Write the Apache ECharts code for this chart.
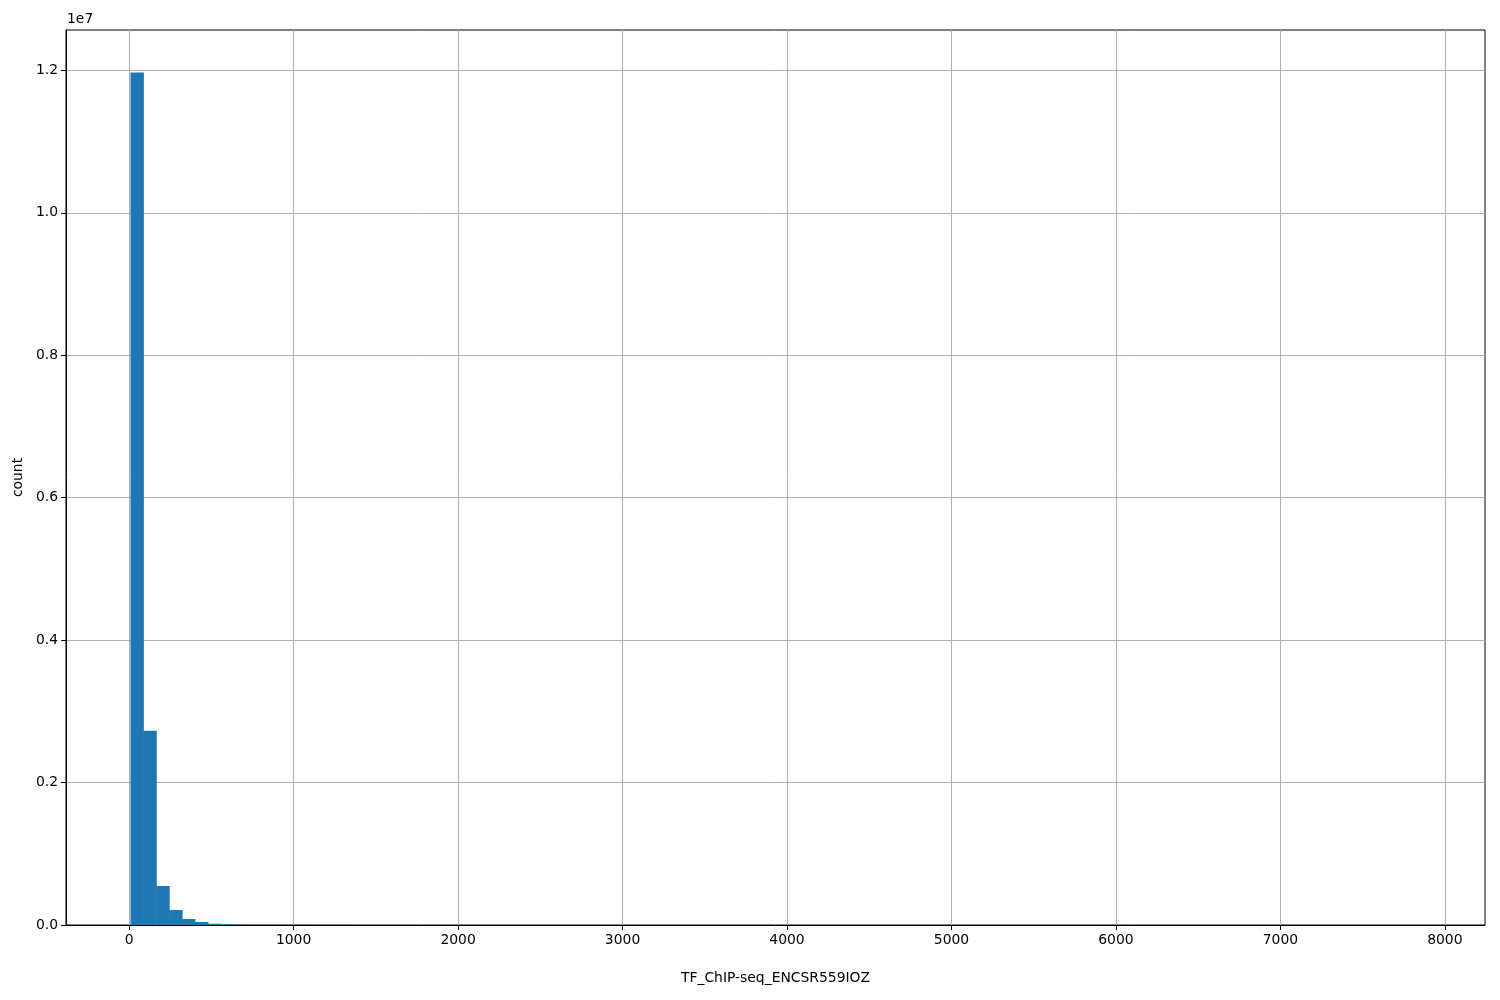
<!DOCTYPE html>
<html>
<head>
<meta charset="utf-8">
<script src="https://cdn.jsdelivr.net/npm/echarts@6/dist/echarts.min.js"></script>
<style>html,body{margin:0;padding:0;background:#fff}#c{width:1500px;height:1000px}</style>
</head>
<body>
<div id="c"></div>
<script>
// Histogram: 100 bins
const binStart = 8;
const binWidth = 78.44;
const counts = [
  11970000, 2726000, 548000, 211000, 84000, 42000, 18000, 10000, 6000, 4000,
  2800, 2000, 1500, 1100, 850, 650, 500, 400, 320, 260,
  210, 170, 140, 120, 100, 85, 70, 60, 52, 45,
  40, 34, 30, 26, 23, 20, 18, 16, 14, 12,
  11, 10, 9, 8, 7, 6, 6, 5, 5, 4,
  4, 4, 3, 3, 3, 3, 2, 2, 2, 2,
  2, 2, 1, 1, 1, 1, 1, 1, 1, 1,
  1, 0, 1, 0, 1, 0, 0, 1, 0, 0,
  1, 0, 0, 0, 1, 0, 0, 0, 0, 1,
  0, 0, 0, 0, 0, 1, 0, 0, 0, 1
];
const xTicks = [0, 1000, 2000, 3000, 4000, 5000, 6000, 7000, 8000];
const yTicks = [0, 2000000, 4000000, 6000000, 8000000, 10000000, 12000000];
const xLabel = 'TF_ChIP-seq_ENCSR559IOZ';
const yLabel = 'count';

const data = counts.map((c, i) => [binStart + i * binWidth, binStart + (i + 1) * binWidth, c]);
const xMin = -384, xMax = 8244, yMax = 12568000;
const font = 'DejaVu Sans';
const fs = 13.9;

const chart = echarts.init(document.getElementById('c'), null, {renderer: 'canvas'});
chart.setOption({
  animation: false,
  grid: {left: 66, right: 15, top: 30, bottom: 75, show: true, borderColor: '#000', borderWidth: 1, backgroundColor: 'transparent'},
  xAxis: {
    type: 'value', min: xMin, max: xMax,
    name: xLabel, nameLocation: 'middle', nameGap: 46,
    nameTextStyle: {fontFamily: font, fontSize: fs, color: '#000'},
    axisLine: {show: true, onZero: false, lineStyle: {color: '#000', width: 1}},
    axisTick: {show: true, length: 5, lineStyle: {color: '#000'}, customValues: xTicks},
    axisLabel: {fontFamily: font, fontSize: fs, color: '#000', margin: 8, customValues: xTicks,
      formatter: v => String(v)},
    splitLine: {show: true, lineStyle: {color: '#b0b0b0', width: 1}}
  },
  yAxis: {
    type: 'value', min: 0, max: yMax,
    name: yLabel, nameLocation: 'middle', nameGap: 38, nameRotate: 90,
    nameTextStyle: {fontFamily: font, fontSize: fs, color: '#000'},
    axisLine: {show: true, onZero: false, lineStyle: {color: '#000', width: 1}},
    axisTick: {show: true, length: 5, lineStyle: {color: '#000'}, customValues: yTicks},
    axisLabel: {fontFamily: font, fontSize: fs, color: '#000', margin: 8, customValues: yTicks,
      formatter: v => (v / 1e7).toFixed(1)},
    splitLine: {show: true, lineStyle: {color: '#b0b0b0', width: 1}}
  },
  graphic: [{
    type: 'text', left: 67, top: 12,
    style: {text: '1e7', font: fs + 'px "DejaVu Sans"', fill: '#000'}
  }],
  series: [{
    type: 'custom',
    data: data,
    encode: {x: [0, 1], y: 2},
    renderItem: function (params, api) {
      if (api.value(2) <= 0) return null;
      const p0 = api.coord([api.value(0), 0]);
      const p1 = api.coord([api.value(1), api.value(2)]);
      return {
        type: 'rect',
        shape: {x: p0[0], y: p1[1], width: p1[0] - p0[0] + 0.5, height: p0[1] - p1[1]},
        style: {fill: '#1f77b4'}
      };
    }
  }]
});
</script>
</body>
</html>
